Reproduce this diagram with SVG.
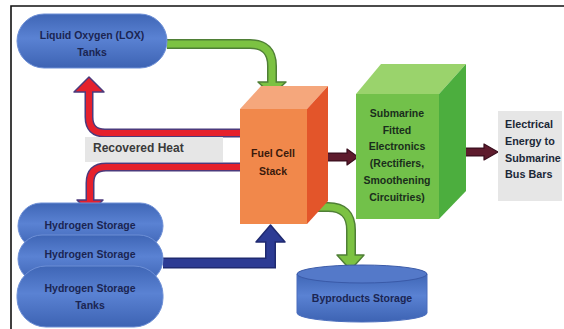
<svg xmlns="http://www.w3.org/2000/svg" width="564" height="329" viewBox="0 0 564 329">
<defs>
<linearGradient id="blueG" x1="0" y1="0" x2="0" y2="1">
<stop offset="0" stop-color="#3f66b6"/>
<stop offset="0.45" stop-color="#5a82d3"/>
<stop offset="1" stop-color="#3d63b3"/>
</linearGradient>
<style>
.pill{fill:url(#blueG);stroke:#6d8fd6;stroke-width:1}
.t{font-family:"Liberation Sans",Arial,sans-serif;font-weight:bold;text-anchor:middle}
.tb{fill:#1b2552;font-size:10.5px}
.ro{fill:none;stroke:#4b3a7c;stroke-width:9}
.ri{fill:none;stroke:#e5202c;stroke-width:6}
.rh{fill:#e5202c;stroke:#4b3a7c;stroke-width:1.5;stroke-linejoin:round}
.go{fill:none;stroke:#4f7f36;stroke-width:10}
.gi{fill:none;stroke:#7cc242;stroke-width:7}
.gh{fill:#7cc242;stroke:#4f7f36;stroke-width:1.5;stroke-linejoin:round}
.bo{fill:none;stroke:#1f2a70;stroke-width:11;stroke-linejoin:miter}
.bi{fill:none;stroke:#2c3b94;stroke-width:8;stroke-linejoin:miter}
.bh{fill:#2c3b94;stroke:#1f2a70;stroke-width:1.5;stroke-linejoin:round}
.mo{fill:none;stroke:#3a0f1e;stroke-width:9}
.mi{fill:none;stroke:#5e1b2d;stroke-width:6.5}
.mh{fill:#5e1b2d;stroke:#3a0f1e;stroke-width:1.2;stroke-linejoin:round}
</style>
</defs>
<rect width="564" height="329" fill="#ffffff"/>
<g id="frame" fill="none" stroke="#111" stroke-width="1.6">
<path d="M11,329 V6 H564"/>
</g>

<g id="connectors">
<!-- LOX to Fuel Cell (green) -->
<path class="go" d="M167,44 H250 Q272,44 272,66 V82"/>
<polygon class="gh" points="258,82 286,82 272,95"/>
<path class="gi" d="M167,44 H250 Q272,44 272,66 V85"/>
<!-- Recovered heat upper (red) -->
<path class="ro" d="M241,133 H105 Q89,133 89,117 V92"/>
<polygon class="rh" points="74,92 104,92 89,77"/>
<path class="ri" d="M241,133 H105 Q89,133 89,117 V89"/>
<!-- Recovered heat lower (red) -->
<path class="ro" d="M241,167 H106 Q90,167 90,183 V200"/>
<polygon class="rh" points="77,200 103,200 90,213"/>
<path class="ri" d="M241,167 H106 Q90,167 90,183 V203"/>
<!-- Hydrogen to Fuel Cell (blue) -->
<path class="bo" d="M163,263 H270.5 V242"/>
<polygon class="bh" points="256,242 285,242 270.5,225"/>
<path class="bi" d="M163,263 H270.5 V239"/>
<!-- Fuel Cell to Byproducts (green) -->
<path class="go" d="M308,207 H328 Q351,207 351,230 V255"/>
<polygon class="gh" points="337,255 364,255 350.5,270"/>
<path class="gi" d="M308,207 H328 Q351,207 351,230 V258"/>
<!-- Fuel Cell to Electronics (maroon) -->
<path class="mo" d="M317,157 H347"/>
<polygon class="mh" points="347,149 347,165 358,157"/>
<path class="mi" d="M317,157 H349"/>
<!-- Electronics to Electrical (maroon) -->
<path class="mo" d="M457,152 H484"/>
<polygon class="mh" points="484,144 484,160 498,152"/>
<path class="mi" d="M457,152 H486"/>
</g>

<g id="lox">
<rect class="pill" x="17" y="14" width="150" height="54" rx="27" ry="27"/>
<text class="t tb" x="92" y="39">Liquid Oxygen (LOX)</text>
<text class="t tb" x="92" y="56">Tanks</text>
</g>

<g id="recovered-heat">
<rect x="85" y="137" width="138" height="25" fill="#e6e6e6"/>
<text x="93" y="152" font-family="'Liberation Sans',Arial,sans-serif" font-weight="bold" font-size="12" fill="#3a3a3a">Recovered Heat</text>
</g>

<g id="hydrogen-storage-1">
<rect class="pill" x="18" y="203" width="145" height="46" rx="23" ry="23"/>
<text class="t tb" x="90" y="229">Hydrogen Storage</text>
</g>
<g id="hydrogen-storage-2">
<rect class="pill" x="18" y="235" width="145" height="48" rx="24" ry="24"/>
<text class="t tb" x="90" y="258">Hydrogen Storage</text>
</g>
<g id="hydrogen-storage-tanks">
<rect class="pill" x="17" y="266" width="146" height="61" rx="29" ry="29"/>
<text class="t tb" x="90" y="292">Hydrogen Storage</text>
<text class="t tb" x="90" y="309">Tanks</text>
</g>

<g id="fuel-cell-stack">
<polygon points="240,109 261,86 328,86 307,109" fill="#f5a77c"/>
<polygon points="307,109 328,86 328,201 307,224" fill="#e3552a"/>
<rect x="240" y="109" width="67" height="115" fill="#f1884b"/>
<text class="t" x="273" y="157" font-size="10.5" fill="#3a1a0c">Fuel Cell</text>
<text class="t" x="273" y="175" font-size="10.5" fill="#3a1a0c">Stack</text>
</g>

<g id="electronics">
<polygon points="356,94 381,64 466,64 439,94" fill="#9ad36c"/>
<polygon points="439,94 466,64 466,191 439,219" fill="#4cae3e"/>
<rect x="356" y="94" width="83" height="125" fill="#72c14a"/>
<g class="t" font-size="10.5" fill="#1a2e1c">
<text x="397" y="117">Submarine</text>
<text x="397" y="134">Fitted</text>
<text x="397" y="150">Electronics</text>
<text x="397" y="167">(Rectifiers,</text>
<text x="397" y="184">Smoothening</text>
<text x="397" y="201">Circuitries)</text>
</g>
</g>

<g id="electrical-energy">
<rect x="498" y="111" width="64" height="90" fill="#e6e6e6"/>
<g font-family="'Liberation Sans',Arial,sans-serif" font-weight="bold" font-size="10.8" fill="#1b2838">
<text x="505" y="128">Electrical</text>
<text x="505" y="145">Energy to</text>
<text x="505" y="162">Submarine</text>
<text x="505" y="178">Bus Bars</text>
</g>
</g>

<g id="byproducts-storage">
<path d="M297,274 V313 A65,9 0 0 0 427,313 V274 Z" fill="url(#blueG)" stroke="#4a6dbd" stroke-width="1"/>
<ellipse cx="362" cy="274" rx="65" ry="9" fill="#5479c9" stroke="#3a5aa8" stroke-width="1"/>
<text class="t tb" x="362" y="302">Byproducts Storage</text>
</g>
</svg>
